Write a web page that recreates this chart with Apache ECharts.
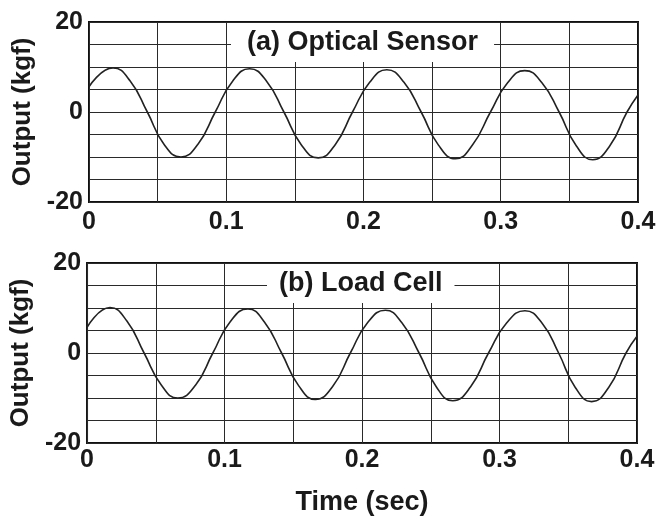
<!DOCTYPE html>
<html>
<head>
<meta charset="utf-8">
<script src="https://cdn.jsdelivr.net/npm/echarts@6/dist/echarts.min.js"></script>
<style>
  html, body { margin: 0; padding: 0; background: #fff; }
</style>
</head>
<body>
<div id="chart" style="width: 666px; height: 525px;"></div>
<script>
// readings (time in sec, output in kgf)
var timeA = [0, 0.0175, 0.03, 0.0425, 0.0545, 0.067, 0.0795, 0.092, 0.1045, 0.117, 0.1295, 0.142, 0.1545, 0.167, 0.1795, 0.192, 0.2045, 0.217, 0.2295, 0.242, 0.2545, 0.267, 0.2795, 0.2925, 0.305, 0.3175, 0.33, 0.3425, 0.355, 0.367, 0.3795, 0.392, 0.4];
var optical = [5.6, 9.8, 6.9, 0, -7.1, -10.0, -7.1, 0, 6.8, 9.6, 6.8, 0, -7.2, -10.2, -7.2, 0, 6.6, 9.4, 6.6, 0, -7.3, -10.4, -7.3, 0, 6.5, 9.2, 6.5, 0, -7.5, -10.6, -7.5, 0, 3.8];

var timeB = [0, 0.0167, 0.029, 0.0415, 0.054, 0.066, 0.079, 0.0915, 0.104, 0.117, 0.129, 0.1415, 0.154, 0.166, 0.179, 0.1915, 0.204, 0.217, 0.229, 0.2415, 0.254, 0.266, 0.279, 0.292, 0.305, 0.3185, 0.331, 0.343, 0.355, 0.367, 0.3795, 0.392, 0.4];
var loadCell = [5.7, 10.1, 7.1, 0, -7.1, -10.0, -7.1, 0, 6.9, 9.8, 6.9, 0, -7.3, -10.3, -7.3, 0, 6.7, 9.5, 6.7, 0, -7.5, -10.6, -7.5, 0, 6.6, 9.4, 6.6, 0, -7.6, -10.8, -7.6, 0, 3.7];

var xTickLabels = [0, 0.1, 0.2, 0.3, 0.4];
var yTickLabels = [-20, 0, 20];
var panelTitles = ['(a) Optical Sensor', '(b) Load Cell'];

var font = '"Liberation Sans", Arial, sans-serif';
var ink = '#1a1a1a';

function pairs(xs, ys) {
  var out = [];
  for (var i = 0; i < xs.length; i++) {
    out.push([xs[i], ys[i]]);
  }
  return out;
}

function pickLabel(list) {
  return function (v) {
    for (var i = 0; i < list.length; i++) {
      if (Math.abs(v - list[i]) < 1e-9) return String(list[i]);
    }
    return '';
  };
}

function xAxisFor(idx, withName) {
  var ax = {
    type: 'value',
    gridIndex: idx,
    min: 0,
    max: 0.4,
    interval: 0.05,
    axisLine: { show: false },
    axisTick: { show: false },
    axisLabel: {
      formatter: pickLabel(xTickLabels),
      color: ink,
      fontFamily: font,
      fontWeight: 'bold',
      fontSize: 25,
      margin: idx === 0 ? 8 : 5,
      showMinLabel: true,
      showMaxLabel: true
    },
    splitLine: { lineStyle: { color: '#2a2a2a', width: 1 } }
  };
  if (withName) {
    ax.name = 'Time (sec)';
    ax.nameLocation = 'middle';
    ax.nameGap = 46;
    ax.nameTextStyle = { color: ink, fontFamily: font, fontWeight: 'bold', fontSize: 27 };
  }
  return ax;
}

function yAxisFor(idx) {
  return {
    type: 'value',
    gridIndex: idx,
    min: -20,
    max: 20,
    interval: 5,
    name: 'Output (kgf)',
    nameLocation: 'middle',
    nameGap: 51,
    nameTextStyle: { color: ink, fontFamily: font, fontWeight: 'bold', fontSize: 26 },
    axisLine: { show: false },
    axisTick: { show: false },
    axisLabel: {
      formatter: pickLabel(yTickLabels),
      color: ink,
      fontFamily: font,
      fontWeight: 'bold',
      fontSize: 25,
      margin: 6
    },
    splitLine: { lineStyle: { color: '#2a2a2a', width: 1 } }
  };
}

var chart = echarts.init(document.getElementById('chart'));

var option = {
  backgroundColor: '#fff',
  animation: false,
  title: [{
    text: panelTitles[0],
    left: 231,
    top: 23,
    padding: [6, 16],
    backgroundColor: '#fff',
    textStyle: { color: ink, fontFamily: font, fontWeight: 'bold', fontSize: 27 }
  }, {
    text: panelTitles[1],
    left: 267,
    top: 264,
    padding: [6, 12],
    backgroundColor: '#fff',
    textStyle: { color: ink, fontFamily: font, fontWeight: 'bold', fontSize: 27 }
  }],
  grid: [{
    left: 89, top: 22, width: 549, height: 180,
    show: true, borderColor: '#111', borderWidth: 2
  }, {
    left: 87, top: 263, width: 550, height: 180,
    show: true, borderColor: '#111', borderWidth: 2
  }],
  xAxis: [xAxisFor(0, false), xAxisFor(1, true)],
  yAxis: [yAxisFor(0), yAxisFor(1)],
  series: [{
    name: 'Optical Sensor',
    type: 'line',
    xAxisIndex: 0,
    yAxisIndex: 0,
    smooth: true,
    symbol: 'none',
    lineStyle: { color: '#222', width: 1.6 },
    data: pairs(timeA, optical)
  }, {
    name: 'Load Cell',
    type: 'line',
    xAxisIndex: 1,
    yAxisIndex: 1,
    smooth: true,
    symbol: 'none',
    lineStyle: { color: '#222', width: 1.6 },
    data: pairs(timeB, loadCell)
  }]
};

chart.setOption(option);
</script>
</body>
</html>
